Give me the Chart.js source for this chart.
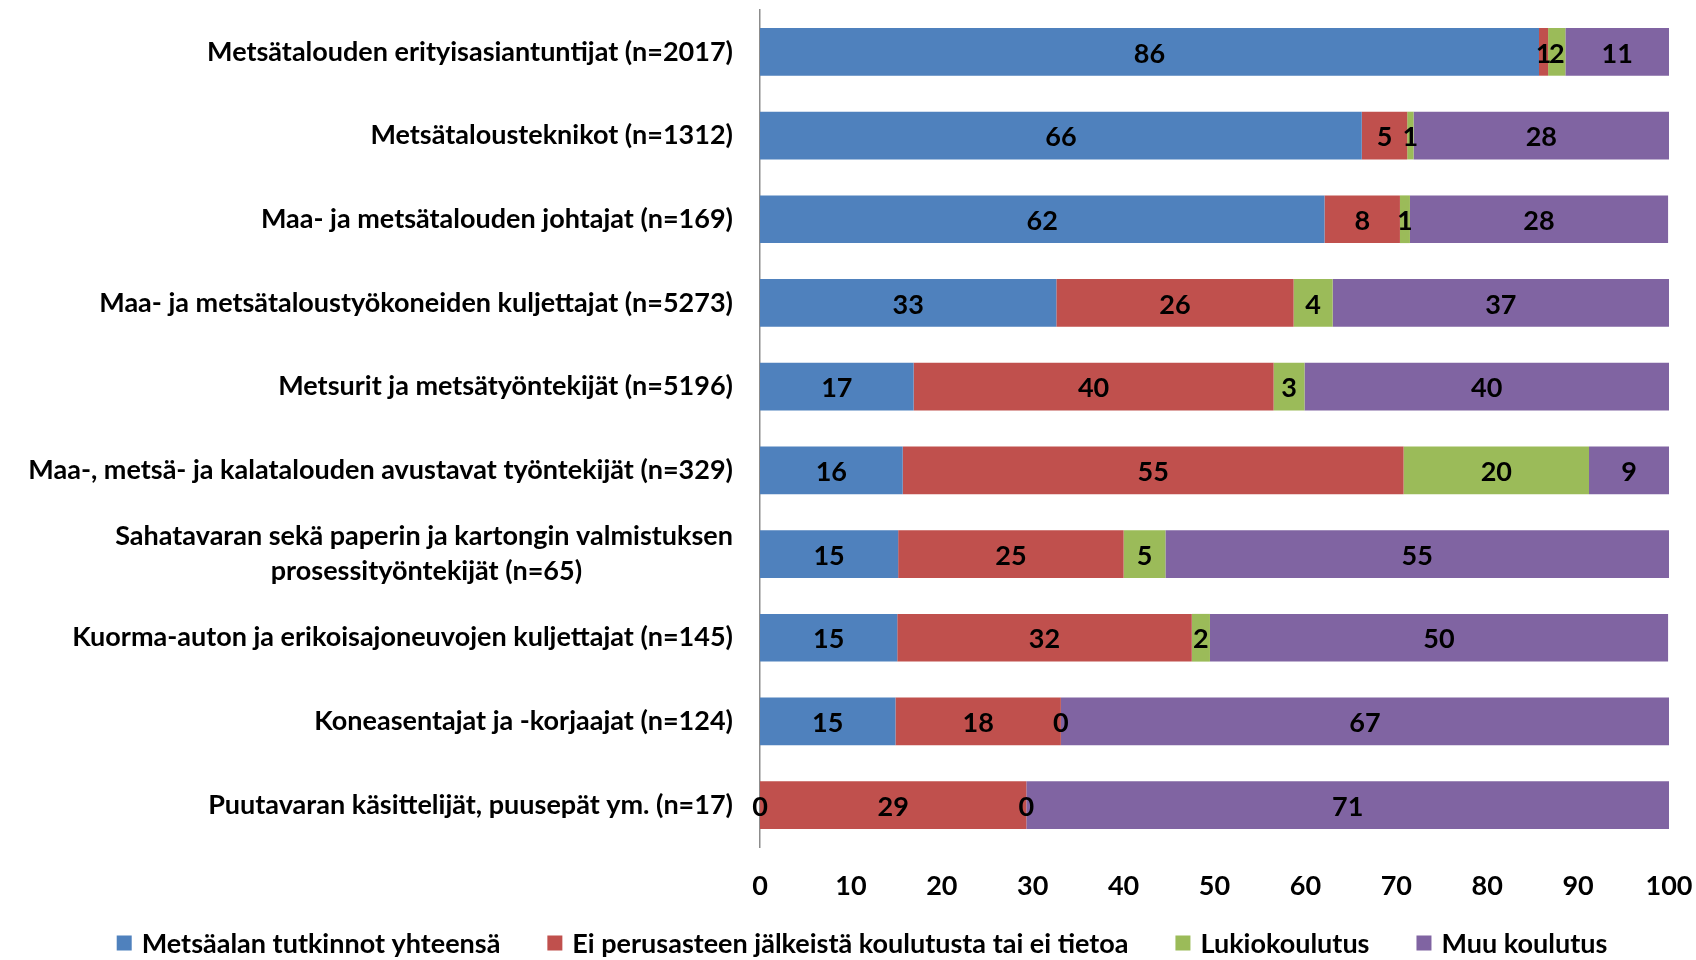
<!DOCTYPE html>
<html>
<head>
<meta charset="utf-8">
<script src="https://cdn.jsdelivr.net/npm/chart.js@4.4.1/dist/chart.umd.min.js"></script>
<style>
  html, body { margin: 0; padding: 0; background: #fff; }
  #wrap { width: 1696px; height: 960px; }
</style>
</head>
<body>
<div id="wrap"><canvas id="migrafica" width="1696" height="960"></canvas></div>
<script>
const categories = [
  "Metsätalouden erityisasiantuntijat (n=2017)",
  "Metsätalousteknikot (n=1312)",
  "Maa- ja metsätalouden johtajat (n=169)",
  "Maa- ja metsätaloustyökoneiden kuljettajat (n=5273)",
  "Metsurit ja metsätyöntekijät (n=5196)",
  "Maa-, metsä- ja kalatalouden avustavat työntekijät (n=329)",
  ["Sahatavaran sekä paperin ja kartongin valmistuksen", "prosessityöntekijät (n=65)"],
  "Kuorma-auton ja erikoisajoneuvojen kuljettajat (n=145)",
  "Koneasentajat ja -korjaajat (n=124)",
  "Puutavaran käsittelijät, puusepät ym. (n=17)"
];
const seriesNames = [
  "Metsäalan tutkinnot yhteensä",
  "Ei perusasteen jälkeistä koulutusta tai ei tietoa",
  "Lukiokoulutus",
  "Muu koulutus"
];
const metsaala = [85.7, 66.2, 62.1, 32.6, 16.9, 15.7, 15.2, 15.1, 14.9, 0];
const eiTietoa = [1.0, 5.0, 8.3, 26.1, 39.6, 55.1, 24.8, 32.4, 18.2, 29.3];
const lukio = [1.9, 0.7, 1.1, 4.3, 3.4, 20.4, 4.6, 2.0, 0, 0];
const muu = [11.4, 28.1, 28.4, 37.0, 40.1, 8.8, 55.4, 50.4, 66.9, 70.7];
const xTicks = [0, 10, 20, 30, 40, 50, 60, 70, 80, 90, 100];

const colors = ["#4F81BD", "#C0504D", "#9BBB59", "#8064A2"];
const FONT = "Lato, 'Open Sans', sans-serif";
const LABEL_FONT = "bold 27px " + FONT;

// monirivinen nimi keskitetään: lyhyempi rivi täytetään välilyönneillä
const measureCtx = document.createElement("canvas").getContext("2d");
const centerLines = (label) => {
  if (!Array.isArray(label)) return label;
  measureCtx.font = LABEL_FONT;
  const widths = label.map((l) => measureCtx.measureText(l).width);
  const maxW = Math.max(...widths);
  const sp = measureCtx.measureText(" ").width;
  return label.map((l, k) => l + " ".repeat(Math.round((maxW - widths[k]) / 2 / sp)));
};

// arvot palkkien keskelle (ei datalabels-pluginia saatavilla)
const valueLabels = {
  id: "valueLabels",
  afterDatasetsDraw(chart) {
    const ctx = chart.ctx;
    ctx.save();
    ctx.font = LABEL_FONT;
    ctx.fillStyle = "#000";
    ctx.textAlign = "center";
    ctx.textBaseline = "middle";
    chart.data.datasets.forEach((ds, i) => {
      const meta = chart.getDatasetMeta(i);
      meta.data.forEach((bar, j) => {
        const v = ds.data[j];
        const cx = (bar.x + bar.base) / 2;
        ctx.fillText(String(Math.round(v)), cx, bar.y + 2);
      });
    });
    ctx.restore();
  }
};

// oma selite alas, keskitetty
const bottomLegend = {
  id: "bottomLegend",
  afterDraw(chart) {
    const ctx = chart.ctx;
    ctx.save();
    ctx.font = LABEL_FONT;
    ctx.textBaseline = "middle";
    const box = 15, gap = 10, itemGap = 47;
    const items = chart.data.datasets.map((ds) => ({
      text: ds.label, color: ds.backgroundColor, w: box + gap + ctx.measureText(ds.label).width
    }));
    const total = items.reduce((a, it) => a + it.w, 0) + itemGap * (items.length - 1);
    let x = 862 - total / 2;
    const y = 943;
    items.forEach((it) => {
      ctx.fillStyle = it.color;
      ctx.fillRect(x, y - box / 2, box, box);
      ctx.fillStyle = "#000";
      ctx.textAlign = "left";
      ctx.fillText(it.text, x + box + gap, y + 1);
      x += it.w + itemGap;
    });
    ctx.restore();
  }
};

const datasets = [metsaala, eiTietoa, lukio, muu].map((d, i) => ({
  label: seriesNames[i],
  data: d,
  backgroundColor: colors[i],
  borderWidth: 0,
  barPercentage: 0.57,
  categoryPercentage: 1.0
}));

var config = {
  type: "bar",
  data: { labels: categories, datasets },
  options: {
    indexAxis: "y",
    responsive: false,
    animation: false,
    layout: { padding: { top: 10, right: 27, left: 0, bottom: 0 } },
    scales: {
      x: {
        stacked: true,
        min: 0,
        max: 100,
        afterBuildTicks: (s) => { s.ticks = xTicks.map((v) => ({ value: v })); },
        grid: { display: false },
        border: { display: false },
        ticks: { color: "#000", font: { family: FONT, size: 27, weight: "bold" }, padding: 15 },
        afterFit: (s) => { s.height = 113; s.paddingLeft = 0; s.paddingRight = 0; }
      },
      y: {
        stacked: true,
        grid: { display: false },
        border: { display: true, color: "#8c8c8c", width: 1.5 },
        ticks: {
          color: "#000",
          font: { family: FONT, size: 27, weight: "bold", lineHeight: 1.3 },
          padding: 19,
          callback: function (value) { return centerLines(this.getLabelForValue(value)); }
        },
        afterFit: (s) => { s.width = 760; s.paddingTop = 0; s.paddingBottom = 0; }
      }
    },
    plugins: {
      legend: { display: false },
      tooltip: { enabled: false }
    }
  },
  plugins: [valueLabels, bottomLegend]
};

var ctx = document.getElementById("migrafica").getContext("2d");
window.myBar = new Chart(ctx, config);
</script>
</body>
</html>
